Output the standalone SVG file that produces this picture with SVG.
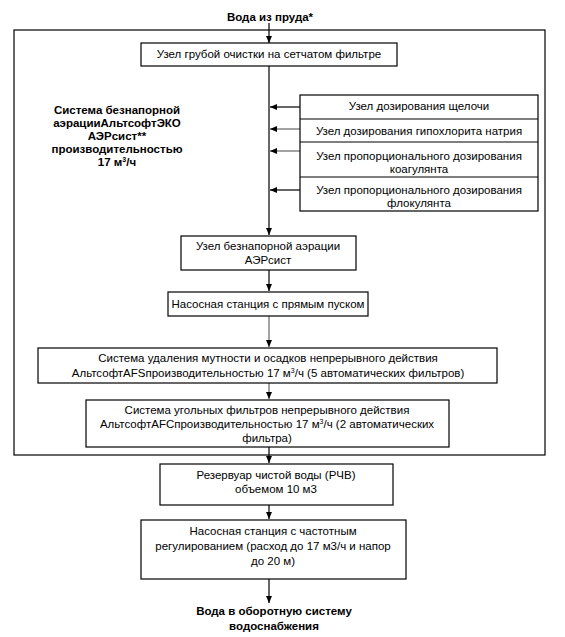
<svg xmlns="http://www.w3.org/2000/svg" width="565" height="637" viewBox="0 0 565 637">
<defs>
<marker id="ah" markerWidth="8" markerHeight="8" refX="7" refY="4" orient="auto" markerUnits="userSpaceOnUse">
<path d="M0,1 L7,4 L0,7 Z" fill="#000"/>
</marker>
<style>
.box{fill:#fff;stroke:#000;stroke-width:1.2}
.t{font-family:"Liberation Sans",Arial,sans-serif;font-size:11.5px;fill:#000;text-anchor:middle}
.b{font-weight:bold}
.c{stroke:#000;stroke-width:1.2;fill:none;marker-end:url(#ah)}
.g{stroke:#666}
</style>
</defs>
<rect width="565" height="637" fill="#fff"/>
<g id="frame"><rect x="14" y="30" width="531" height="425" fill="none" stroke="#000" stroke-width="1.2"/></g>
<g id="source"><text class="t b" x="270" y="21">Вода из пруда*</text></g>
<g id="system-label">
<text class="t b" x="117" y="114">Система безнапорной</text>
<text class="t b" x="117" y="127">аэрацииАльтсофтЭКО</text>
<text class="t b" x="117" y="140">АЭРсист**</text>
<text class="t b" x="117" y="153">производительностью</text>
<text class="t b" x="117" y="166">17 м<tspan font-size="7" dy="-4">3</tspan><tspan dy="4">/ч</tspan></text>
</g>
<g id="connectors">
<line class="c" x1="269" y1="23" x2="269" y2="43"/>
<line class="c" x1="269" y1="66" x2="269" y2="235"/>
<line class="c" x1="300" y1="107" x2="270" y2="107"/>
<line class="c g" x1="300" y1="129" x2="270" y2="129"/>
<line class="c g" x1="300" y1="151" x2="270" y2="151"/>
<line class="c" x1="300" y1="190" x2="270" y2="190"/>
<line class="c" x1="269" y1="270" x2="269" y2="291"/>
<line class="c g" x1="269" y1="316" x2="269" y2="347"/>
<line class="c g" x1="269" y1="383" x2="269" y2="399"/>
<line class="c" x1="269" y1="447" x2="269" y2="463"/>
<line class="c" x1="269" y1="505" x2="269" y2="519"/>
<line class="c" x1="269" y1="579" x2="269" y2="603"/>
</g>
<g id="n1"><rect class="box" x="141" y="43" width="256" height="23"/><text class="t" x="269" y="58">Узел грубой очистки на сетчатом фильтре</text></g>
<g id="dosing">
<rect class="box" x="300" y="95" width="238" height="116"/>
<line x1="300" y1="119" x2="538" y2="119" stroke="#000" stroke-width="1.2"/>
<line x1="300" y1="142" x2="538" y2="142" stroke="#000" stroke-width="1.2"/>
<line x1="300" y1="177" x2="538" y2="177" stroke="#000" stroke-width="1.2"/>
<text class="t" x="419" y="110">Узел дозирования щелочи</text>
<text class="t" x="419" y="135">Узел дозирования гипохлорита натрия</text>
<text class="t" x="419" y="160">Узел пропорционального дозирования</text>
<text class="t" x="419" y="173">коагулянта</text>
<text class="t" x="419" y="194">Узел пропорционального дозирования</text>
<text class="t" x="419" y="207">флокулянта</text>
</g>
<g id="n2"><rect class="box" x="181" y="236" width="175" height="34"/><text class="t" x="268" y="250">Узел безнапорной аэрации</text><text class="t" x="268" y="264">АЭРсист</text></g>
<g id="n3"><rect class="box" x="168" y="292" width="200" height="24"/><text class="t" x="268" y="308">Насосная станция с прямым пуском</text></g>
<g id="n4"><rect class="box" x="38" y="348" width="459" height="35"/><text class="t" x="268" y="362">Система удаления мутности и осадков непрерывного действия</text><text class="t" x="268" y="377">АльтсофтAFSпроизводительностью 17 м<tspan font-size="7" dy="-4">3</tspan><tspan dy="4">/ч (5 автоматических фильтров)</tspan></text></g>
<g id="n5"><rect class="box" x="86" y="400" width="363" height="47"/><text class="t" x="267" y="414">Система угольных фильтров непрерывного действия</text><text class="t" x="267" y="428">АльтсофтAFCпроизводительностью 17 м<tspan font-size="7" dy="-4">3</tspan><tspan dy="4">/ч (2 автоматических</tspan></text><text class="t" x="267" y="442">фильтра)</text></g>
<g id="n6"><rect class="box" x="160" y="464" width="233" height="41"/><text class="t" x="276" y="479">Резервуар чистой воды (РЧВ)</text><text class="t" x="276" y="493">объемом 10 м3</text></g>
<g id="n7"><rect class="box" x="141" y="520" width="265" height="59"/><text class="t" x="273" y="535">Насосная станция с частотным</text><text class="t" x="273" y="550">регулированием (расход до 17 м3/ч и напор</text><text class="t" x="273" y="565">до 20 м)</text></g>
<g id="sink"><text class="t b" x="274" y="615">Вода в оборотную систему</text><text class="t b" x="274" y="630">водоснабжения</text></g>
</svg>
